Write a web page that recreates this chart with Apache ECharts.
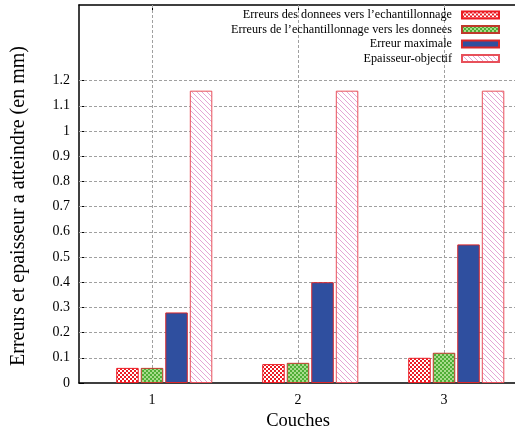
<!DOCTYPE html>
<html>
<head>
<meta charset="utf-8">
<script src="https://cdn.jsdelivr.net/npm/echarts@6/dist/echarts.min.js"></script>
<style>html,body{margin:0;padding:0;background:#fff;}#c{width:515px;height:428px;}</style>
</head>
<body>
<div id="c"></div>
<script>
const categories = ['1', '2', '3'];
const erreursDonneesEch = [0.06, 0.075, 0.10];
const erreursEchDonnees = [0.06, 0.08, 0.12];
const erreurMaximale = [0.28, 0.40, 0.55];
const epaisseurObjectif = [1.16, 1.16, 1.16];
const yTicks = [0, 0.1, 0.2, 0.3, 0.4, 0.5, 0.6, 0.7, 0.8, 0.9, 1, 1.1, 1.2];
const seriesNames = [
  'Erreurs des donnees vers l\u2019echantillonnage',
  'Erreurs de l\u2019echantillonnage vers les donnees',
  'Erreur maximale',
  'Epaisseur-objectif'
];

function tile(w, h, draw) {
  const c = document.createElement('canvas');
  c.width = w; c.height = h;
  const g = c.getContext('2d');
  draw(g);
  return { image: c, repeat: 'repeat' };
}
const redPat = tile(4, 4, g => {
  g.fillStyle = '#ffffff'; g.fillRect(0, 0, 4, 4);
  g.fillStyle = '#ec1c24'; g.fillRect(0, 0, 2, 2); g.fillRect(2, 2, 2, 2);
});
const greenPat = tile(4, 4, g => {
  g.fillStyle = '#a8dc8c'; g.fillRect(0, 0, 4, 4);
  g.fillStyle = '#4fae36'; g.fillRect(0, 0, 2, 2); g.fillRect(2, 2, 2, 2);
});
const pinkPat = tile(5, 5, g => {
  g.fillStyle = '#ffffff'; g.fillRect(0, 0, 5, 5);
  g.fillStyle = '#e4a6d6';
  for (let i = 0; i < 5; i++) g.fillRect(i, i, 1, 1);
});

const font = 'Liberation Serif';
const chart = echarts.init(document.getElementById('c'), null, { renderer: 'canvas' });

const gridLineStyle = { color: '#a0a0a0', type: [3, 2], width: 1 };
const markData = categories.map(c => ({ xAxis: c }))
  .concat(yTicks.filter(v => v > 0).map(v => ({ yAxis: v })));

chart.setOption({
  animation: false,
  backgroundColor: '#ffffff',
  textStyle: { fontFamily: font },
  grid: { left: 79, top: 5, width: 438, bottom: 45, containLabel: false, outerBoundsMode: 'none' },
  legend: {
    orient: 'vertical',
    right: 15,
    top: 8,
    padding: 0,
    align: 'right',
    icon: 'rect',
    itemWidth: 37,
    itemHeight: 7,
    itemGap: 0.5,
    data: seriesNames,
    textStyle: { fontFamily: font, fontSize: 12.2, color: '#000', lineHeight: 14, padding: [0, 5, 0, 0] },
    selectedMode: false
  },
  xAxis: [{
    type: 'category',
    data: categories,
    position: 'bottom',
    name: 'Couches',
    nameLocation: 'middle',
    nameGap: 16,
    nameTextStyle: { fontFamily: font, fontSize: 18.5, color: '#000' },
    axisLine: { lineStyle: { color: '#000', width: 1.5 } },
    axisTick: { show: true, inside: true, alignWithLabel: true, length: 5, lineStyle: { color: '#000' } },
    axisLabel: { fontFamily: font, fontSize: 14, color: '#000', margin: 10 },
    splitLine: { show: false }
  }, {
    type: 'category',
    data: categories,
    position: 'top',
    axisLine: { lineStyle: { color: '#000', width: 1.5 } },
    axisTick: { show: true, inside: true, alignWithLabel: true, length: 5, lineStyle: { color: '#000' } },
    axisLabel: { show: false },
    splitLine: { show: false }
  }],
  yAxis: {
    type: 'value',
    min: 0,
    max: 1.5,
    interval: 0.1,
    name: 'Erreurs et epaisseur a atteindre (en mm)',
    nameLocation: 'middle',
    nameGap: 50,
    nameTextStyle: { fontFamily: font, fontSize: 20, color: '#000', padding: [0, 24, 0, 0] },
    axisLine: { show: true, lineStyle: { color: '#000', width: 1.5 } },
    axisTick: { show: true, inside: true, length: 5, customValues: yTicks, lineStyle: { color: '#000' } },
    axisLabel: {
      fontFamily: font, fontSize: 14, color: '#000', margin: 9, customValues: yTicks,
      formatter: v => (v > 1.2001 ? '' : String(Math.round(v * 10) / 10))
    },
    splitLine: { show: false }
  },
  series: [{
    type: 'line',
    name: '_grid',
    data: categories.map(() => null),
    xAxisIndex: 0,
    z: 1,
    showSymbol: false,
    markLine: {
      silent: true,
      symbol: 'none',
      label: { show: false },
      lineStyle: gridLineStyle,
      z: 1,
      data: markData,
      animation: false
    }
  }, {
    type: 'bar',
    name: '_placeholder',
    data: categories.map(() => null),
    barWidth: 22.5,
    barGap: '9%',
    z: 1
  }, {
    type: 'bar', name: seriesNames[0], data: erreursDonneesEch, barWidth: 22.5, barGap: '9%', z: 3,
    itemStyle: { color: redPat, borderColor: '#ec1c24', borderWidth: 1 }
  }, {
    type: 'bar', name: seriesNames[1], data: erreursEchDonnees, barWidth: 22.5, barGap: '9%', z: 3,
    itemStyle: { color: greenPat, borderColor: '#c0392b', borderWidth: 1 }
  }, {
    type: 'bar', name: seriesNames[2], data: erreurMaximale, barWidth: 22.5, barGap: '9%', z: 3,
    itemStyle: { color: '#2f4f9f', borderColor: '#d9262a', borderWidth: 1 }
  }, {
    type: 'bar', name: seriesNames[3], data: epaisseurObjectif, barWidth: 22.5, barGap: '9%', z: 3,
    itemStyle: { color: pinkPat, borderColor: '#e8505a', borderWidth: 1 }
  }]
});
</script>
</body>
</html>
